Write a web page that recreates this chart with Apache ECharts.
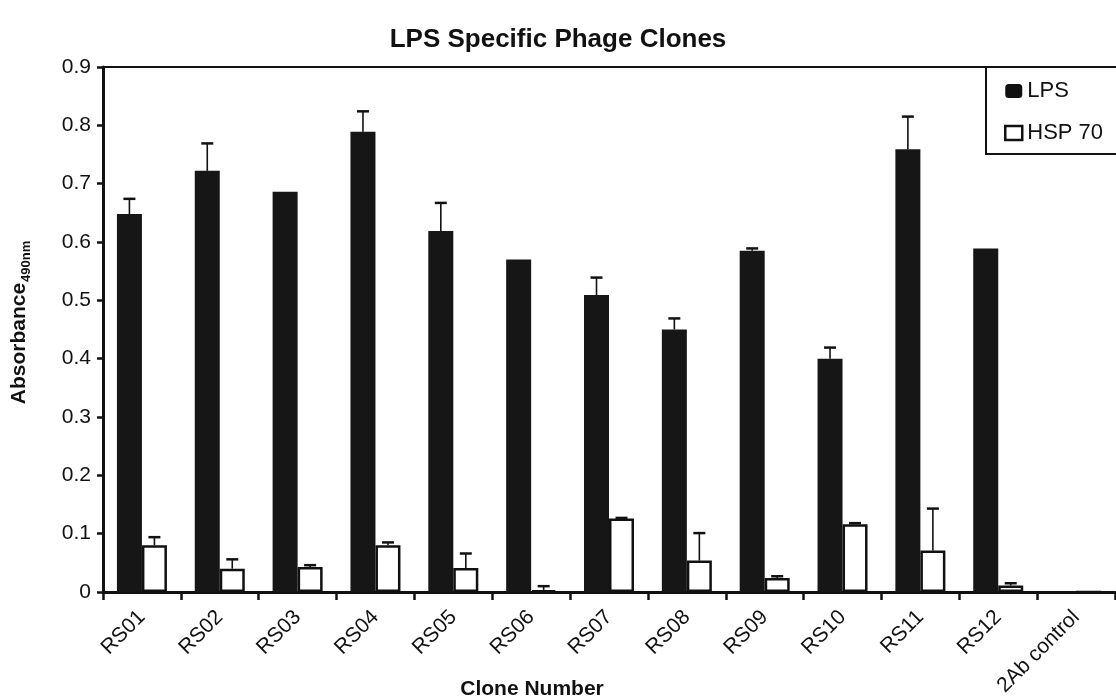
<!DOCTYPE html>
<html>
<head>
<meta charset="utf-8">
<title>LPS Specific Phage Clones</title>
<script src="https://cdn.jsdelivr.net/npm/echarts@6/dist/echarts.min.js"></script>
<style>
  html, body { margin: 0; padding: 0; background: #fff; }
  #chart { width: 1116px; height: 699px; }
</style>
</head>
<body>
<div id="chart"></div>
<script>
// Clone names along the x axis
const categories = ['RS01', 'RS02', 'RS03', 'RS04', 'RS05', 'RS06', 'RS07',
                    'RS08', 'RS09', 'RS10', 'RS11', 'RS12', '2Ab control'];

// Mean absorbance (490 nm) against LPS and HSP 70, with upper error (SD)
const lpsValues = [0.648, 0.722, 0.686, 0.789, 0.619, 0.570, 0.509, 0.450, 0.585, 0.400, 0.759, 0.589, 0];
const lpsErrors = [0.026, 0.047, 0,     0.035, 0.048, 0,     0.030, 0.019, 0.004, 0.019, 0.056, 0,     0];
const hspValues = [0.080, 0.040, 0.043, 0.080, 0.041, 0.003, 0.126, 0.054, 0.024, 0.116, 0.071, 0.011, 0];
const hspErrors = [0.014, 0.016, 0.003, 0.005, 0.025, 0.007, 0.001, 0.047, 0.003, 0.002, 0.072, 0.004, 0];

// Y axis range and step
const yMin = 0, yMax = 0.9, yStep = 0.1;

const INK = '#111111';
const BAR_W = 25;
const FONT = 'Liberation Sans, Arial, Helvetica, sans-serif';

// Upward-only error whisker, shifted to sit on its bar within the group
function errorBar(offset) {
  return function (params, api) {
    const i = api.value(0), v = api.value(1), e = api.value(2);
    if (!e) return null;
    const base = api.coord([i, v]);
    const top = api.coord([i, v + e]);
    const x = base[0] + offset;
    return {
      type: 'group',
      children: [
        { type: 'line', shape: { x1: x, y1: base[1], x2: x, y2: top[1] },
          style: { stroke: INK, lineWidth: 1.6 } },
        { type: 'line', shape: { x1: x - 6, y1: top[1], x2: x + 6, y2: top[1] },
          style: { stroke: INK, lineWidth: 2.5 } }
      ]
    };
  };
}

const chart = echarts.init(document.getElementById('chart'), null, { renderer: 'canvas' });

chart.setOption({
  animation: false,
  backgroundColor: '#ffffff',
  textStyle: { fontFamily: FONT, color: INK },
  title: [
    { text: 'LPS Specific Phage Clones', left: 'center', top: 22,
      textStyle: { fontSize: 26, fontWeight: 'bold', color: INK, fontFamily: FONT } },
    { text: 'Clone Number', left: 527, textAlign: 'center', top: 674,
      textStyle: { fontSize: 21, fontWeight: 'bold', color: INK, fontFamily: FONT } }
  ],
  legend: {
    orient: 'vertical',
    left: 986,
    top: 67,
    borderColor: INK,
    borderWidth: 2,
    padding: [13, 40, 10, 18],
    itemGap: 20,
    itemWidth: 17,
    itemHeight: 14,
    textStyle: { fontSize: 22, color: INK, fontFamily: FONT },
    data: [
      { name: 'LPS', icon: 'roundRect', itemStyle: { color: INK } },
      { name: 'HSP 70', icon: 'rect',
        itemStyle: { color: '#ffffff', borderColor: INK, borderWidth: 2.5 } }
    ]
  },
  grid: { left: 102, right: 1, top: 67, bottom: 107, containLabel: false },
  xAxis: [
    {
      type: 'category',
      data: categories,
      boundaryGap: true,
      axisLine: { show: true, lineStyle: { color: INK, width: 3 } },
      axisTick: { show: true, length: 8, lineStyle: { color: INK, width: 2.5 } },
      axisLabel: { interval: 0, rotate: 45, margin: 22, fontSize: 21, color: INK, fontFamily: FONT },
      splitLine: { show: false }
    },
    {
      // top frame line at the axis maximum
      type: 'category',
      data: categories,
      position: 'top',
      axisLine: { show: true, lineStyle: { color: INK, width: 2 } },
      axisTick: { show: false },
      axisLabel: { show: false },
      splitLine: { show: false }
    }
  ],
  yAxis: {
    type: 'value',
    min: yMin,
    max: yMax,
    interval: yStep,
    name: '{a|Absorbance}{b|490nm}',
    nameLocation: 'middle',
    nameGap: 70,
    nameTextStyle: {
      padding: [0, 0, 0, 14],
      rich: {
        a: { fontSize: 21, fontWeight: 'bold', color: INK, fontFamily: FONT,
             lineHeight: 24, verticalAlign: 'top' },
        b: { fontSize: 13, fontWeight: 'bold', color: INK, fontFamily: FONT,
             lineHeight: 14, padding: [12, 0, 0, 1], verticalAlign: 'bottom' }
      }
    },
    axisLine: { show: true, lineStyle: { color: INK, width: 3 } },
    axisTick: { show: true, length: 6, lineStyle: { color: INK, width: 2.5 } },
    axisLabel: {
      fontSize: 21, color: INK, margin: 12, fontFamily: FONT,
      formatter: v => (v === 0 ? '0' : v.toFixed(1))
    },
    splitLine: { show: false }
  },
  series: [
    {
      name: 'LPS',
      type: 'bar',
      data: lpsValues,
      barWidth: BAR_W,
      barGap: '0%',
      itemStyle: { color: '#161616' },
      z: 2
    },
    {
      name: 'HSP 70',
      type: 'bar',
      data: hspValues,
      barWidth: BAR_W,
      barGap: '0%',
      itemStyle: { color: '#ffffff', borderColor: INK, borderWidth: 2.5 },
      z: 2
    },
    {
      name: 'LPS error',
      type: 'custom',
      renderItem: errorBar(-BAR_W / 2),
      data: lpsValues.map((v, i) => [i, v, lpsErrors[i]]),
      encode: { x: 0, y: 1 },
      z: 3
    },
    {
      name: 'HSP 70 error',
      type: 'custom',
      renderItem: errorBar(BAR_W / 2),
      data: hspValues.map((v, i) => [i, v, hspErrors[i]]),
      encode: { x: 0, y: 1 },
      z: 3
    }
  ]
});
</script>
</body>
</html>
